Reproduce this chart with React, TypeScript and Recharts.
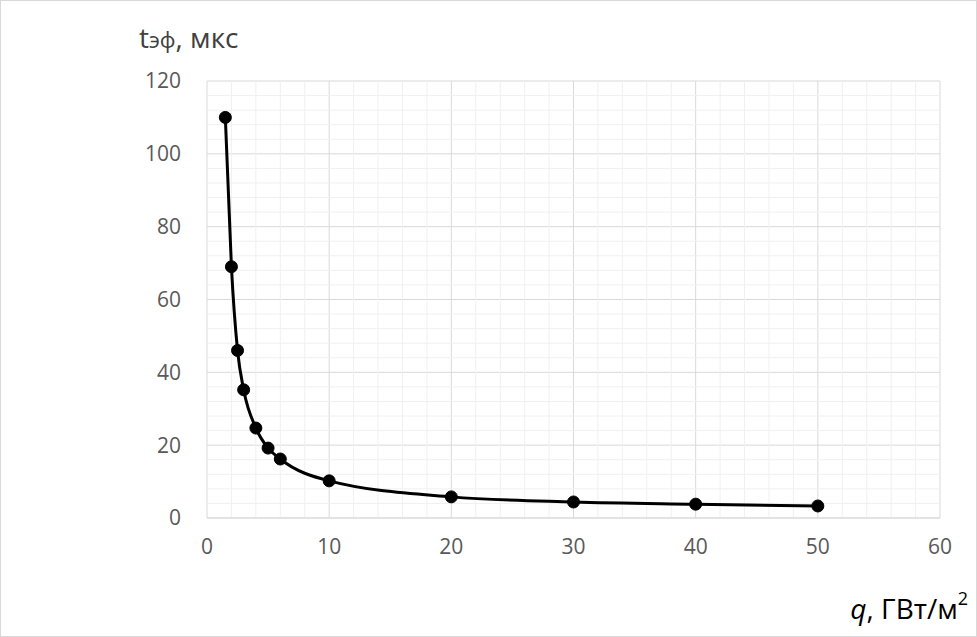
import { LineChart, Line, XAxis, YAxis, CartesianGrid, ReferenceLine } from 'recharts';

// q, GW/m^2
const qValues = [1.5, 2, 2.5, 3, 4, 5, 6, 10, 20, 30, 40, 50];
// t_eff, microseconds
const tValues = [110, 69, 46, 35.2, 24.7, 19.2, 16.2, 10.2, 5.8, 4.4, 3.8, 3.3];

const xTicks = [0, 10, 20, 30, 40, 50, 60];
const yTicks = [0, 20, 40, 60, 80, 100, 120];
const xMinor = [2, 4, 6, 8, 12, 14, 16, 18, 22, 24, 26, 28, 32, 34, 36, 38, 42, 44, 46, 48, 52, 54, 56, 58];
const yMinor = [4, 8, 12, 16, 24, 28, 32, 36, 44, 48, 52, 56, 64, 68, 72, 76, 84, 88, 92, 96, 104, 108, 112, 116];

const data = qValues.map((q, i) => ({ q, t: tValues[i] }));

const font = '"Open Sans", "DejaVu Sans", sans-serif';
const tickStyle = { fill: '#595959', fontSize: 21, fontFamily: font };

export default function App() {
    return (
        <div style={{ position: 'absolute', left: 0, top: 0, width: 977, height: 637, background: '#fff' }}>
            <div style={{ position: 'absolute', left: 0, top: 0, width: 975, height: 635, border: '1px solid #d9d9d9' }} />
            <LineChart
                width={977}
                height={637}
                data={data}
                margin={{ top: 81, right: 37, bottom: 0, left: 0 }}
            >
                {yMinor.map((v) => (
                    <ReferenceLine key={'y' + v} y={v} stroke="#f0f0f0" strokeWidth={1} />
                ))}
                {xMinor.map((v) => (
                    <ReferenceLine key={'x' + v} x={v} stroke="#f0f0f0" strokeWidth={1} />
                ))}
                <CartesianGrid stroke="#d9d9d9" strokeWidth={1} />
                <XAxis
                    dataKey="q"
                    type="number"
                    domain={[0, 60]}
                    ticks={xTicks}
                    interval={0}
                    tickLine={false}
                    tickSize={0}
                    tickMargin={21}
                    axisLine={{ stroke: '#d9d9d9' }}
                    tick={tickStyle}
                    height={119}
                />
                <YAxis
                    type="number"
                    domain={[0, 120]}
                    ticks={yTicks}
                    interval={0}
                    tickLine={false}
                    tickSize={0}
                    tickMargin={26}
                    axisLine={false}
                    tick={tickStyle}
                    width={207}
                />
                <Line
                    type="monotone"
                    dataKey="t"
                    stroke="#000"
                    strokeWidth={3}
                    dot={{ r: 6, fill: '#000', stroke: '#000', strokeWidth: 1 }}
                    isAnimationActive={false}
                />
            </LineChart>
            <div style={{ position: 'absolute', left: 139, top: 18, fontFamily: font, fontSize: 28, color: '#404040', whiteSpace: 'nowrap' }}>
                t<span style={{ fontSize: 22 }}>эф</span>, мкс
            </div>
            <div style={{ position: 'absolute', right: 9, top: 589, fontFamily: font, fontSize: 28, color: '#000', whiteSpace: 'nowrap' }}>
                <i>q</i>, ГВт/м<sup style={{ fontSize: 18, verticalAlign: 'top', lineHeight: 1 }}>2</sup>
            </div>
        </div>
    );
}
